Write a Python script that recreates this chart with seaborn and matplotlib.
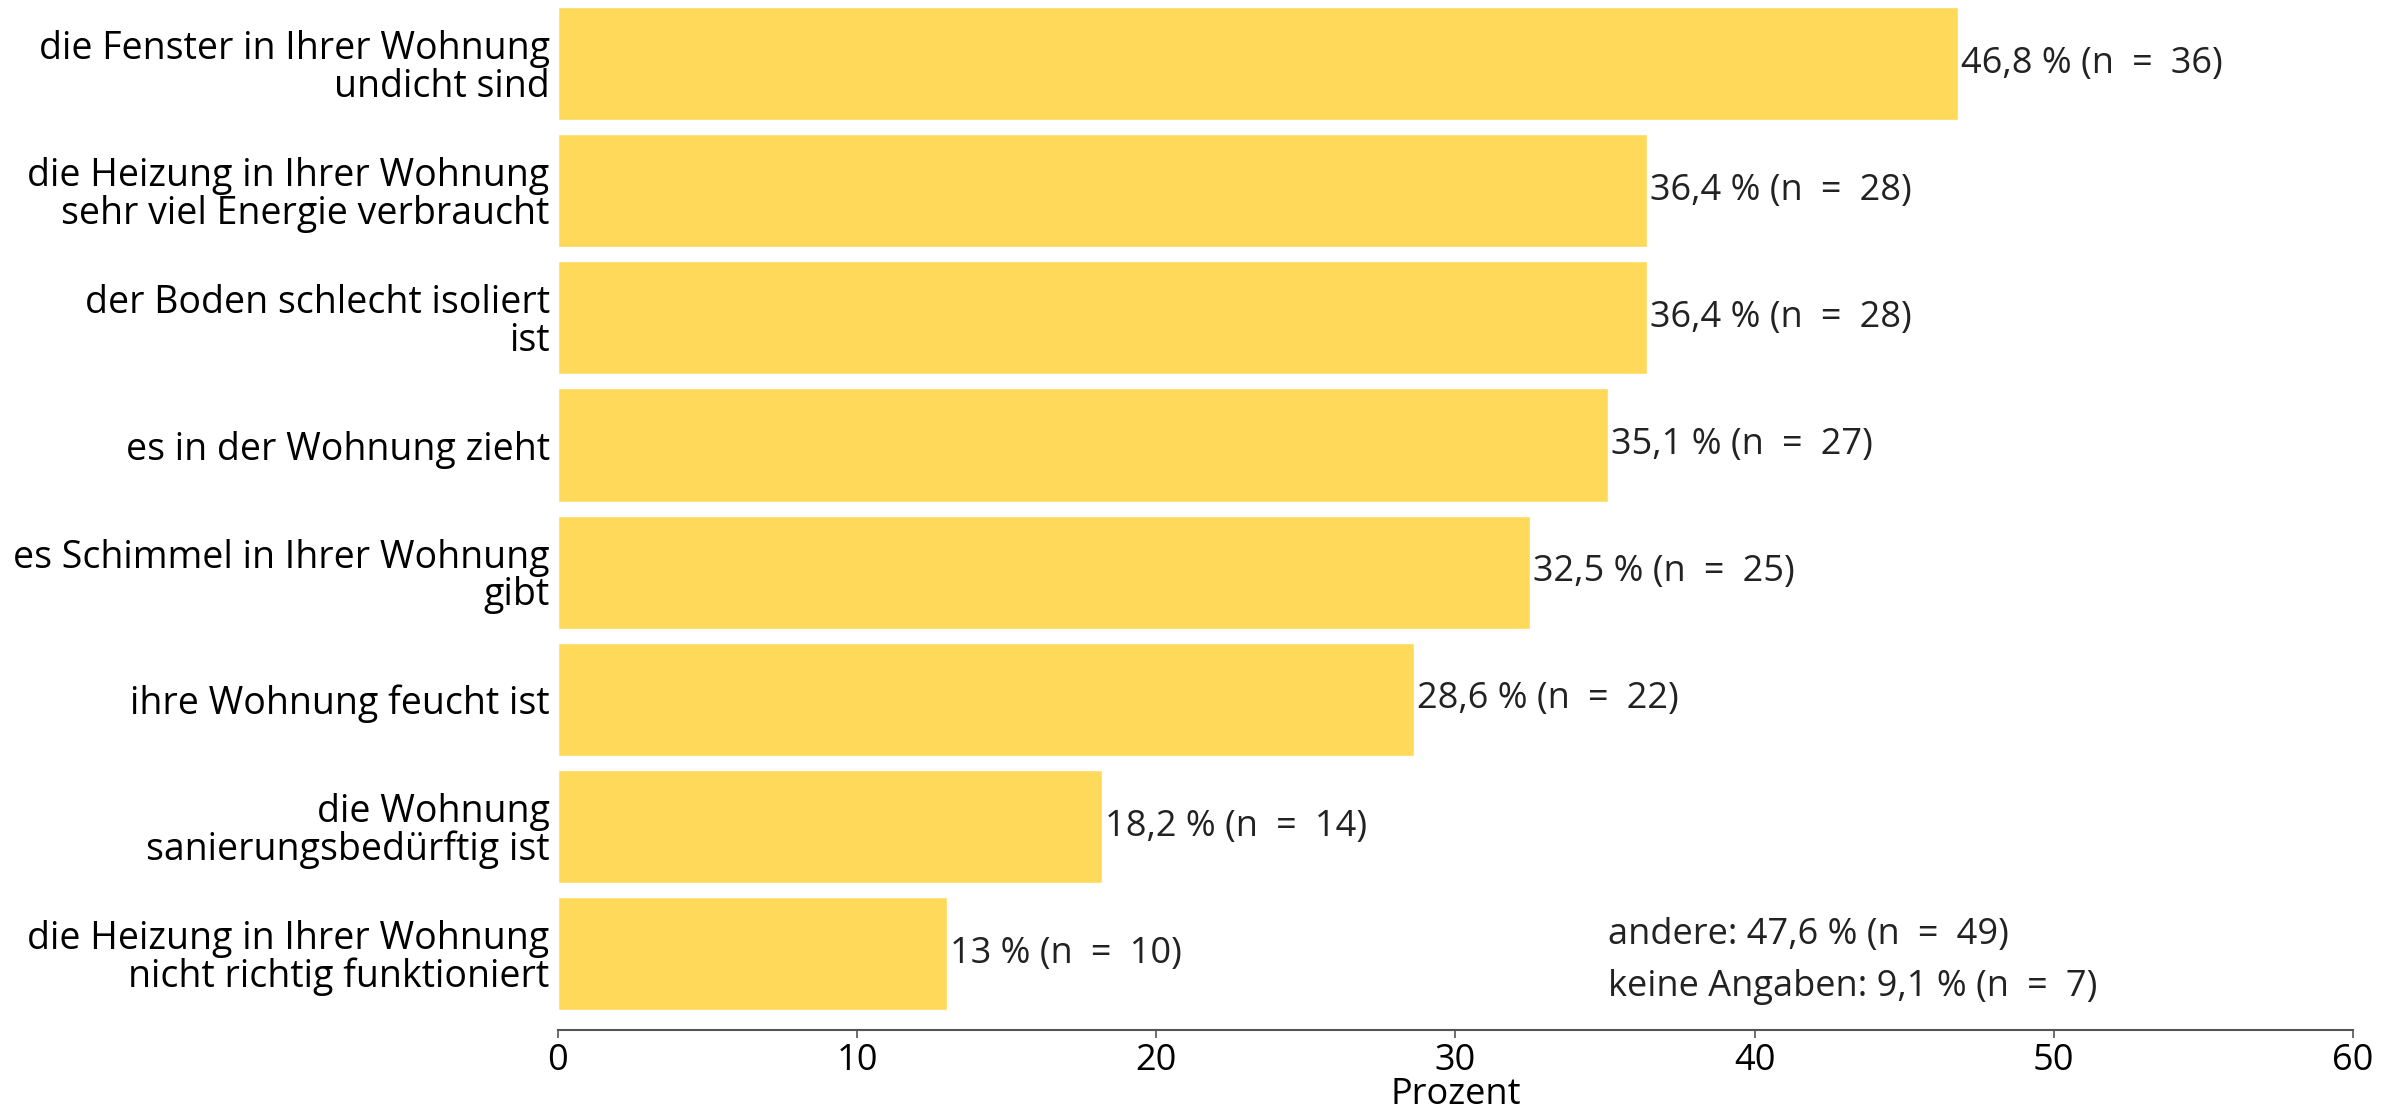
import matplotlib
matplotlib.use("Agg")
import matplotlib.pyplot as plt
import seaborn as sns
import pandas as pd

categories = [
    "die Fenster in Ihrer Wohnung\nundicht sind",
    "die Heizung in Ihrer Wohnung\nsehr viel Energie verbraucht",
    "der Boden schlecht isoliert\nist",
    "es in der Wohnung zieht",
    "es Schimmel in Ihrer Wohnung\ngibt",
    "ihre Wohnung feucht ist",
    "die Wohnung\nsanierungsbedürftig ist",
    "die Heizung in Ihrer Wohnung\nnicht richtig funktioniert",
]
percent = [46.8, 36.4, 36.4, 35.1, 32.5, 28.6, 18.2, 13.0]
counts = [36, 28, 28, 27, 25, 22, 14, 10]
extra_notes = ["andere: 47,6 % (n\u2002=\u200249)",
               "keine Angaben: 9,1 % (n\u2002=\u20027)"]
x_ticks = [0, 10, 20, 30, 40, 50, 60]

df = pd.DataFrame({"Kategorie": categories, "Prozent": percent, "n": counts})

sns.set_theme(style="white")
plt.rcParams["font.family"] = ["Open Sans", "DejaVu Sans"]

FS = 27
VS = 26

fig = plt.figure(figsize=(24.02, 11.11), dpi=100)
ax = fig.add_axes([0.2323, 0.0729, 0.7473, 0.9271])

sns.barplot(data=df, x="Prozent", y="Kategorie", orient="h",
            color="#FFD95A", saturation=1, width=0.89, ax=ax)

for i, (p, n) in enumerate(zip(percent, counts)):
    txt = f"{p:.1f}".replace(".", ",") if p % 1 else f"{int(p)}"
    ax.text(p + 0.1, i, f"{txt} % (n\u2002=\u2002{n})", va="center", ha="left",
            fontsize=VS, color="#222222")

ax.text(0.585, 0.092, extra_notes[0], transform=ax.transAxes,
        fontsize=VS, color="#222222", va="center", ha="left")
ax.text(0.585, 0.042, extra_notes[1], transform=ax.transAxes,
        fontsize=VS, color="#222222", va="center", ha="left")

ax.set_xlim(0, 60)
ax.set_ylim(7.6, -0.5)
ax.set_xticks(x_ticks)
ax.set_xticklabels([str(t) for t in x_ticks], fontsize=VS, color="black")
ax.tick_params(axis="y", labelsize=FS, labelcolor="black", length=0, pad=6)
ax.tick_params(axis="x", length=6, width=1.2, color="#555555", pad=3,
               direction="out", bottom=True)
for lbl in ax.get_yticklabels():
    lbl.set_horizontalalignment("right")
    lbl.set_multialignment("right")
    lbl.set_linespacing(0.98)

for side in ["top", "right", "left"]:
    ax.spines[side].set_visible(False)
ax.spines["bottom"].set_color("#555555")
ax.spines["bottom"].set_linewidth(1.5)

ax.set_ylabel("")
ax.set_xlabel("Prozent", fontsize=VS, color="black", labelpad=-1)

fig.savefig("out.png", dpi=100)
